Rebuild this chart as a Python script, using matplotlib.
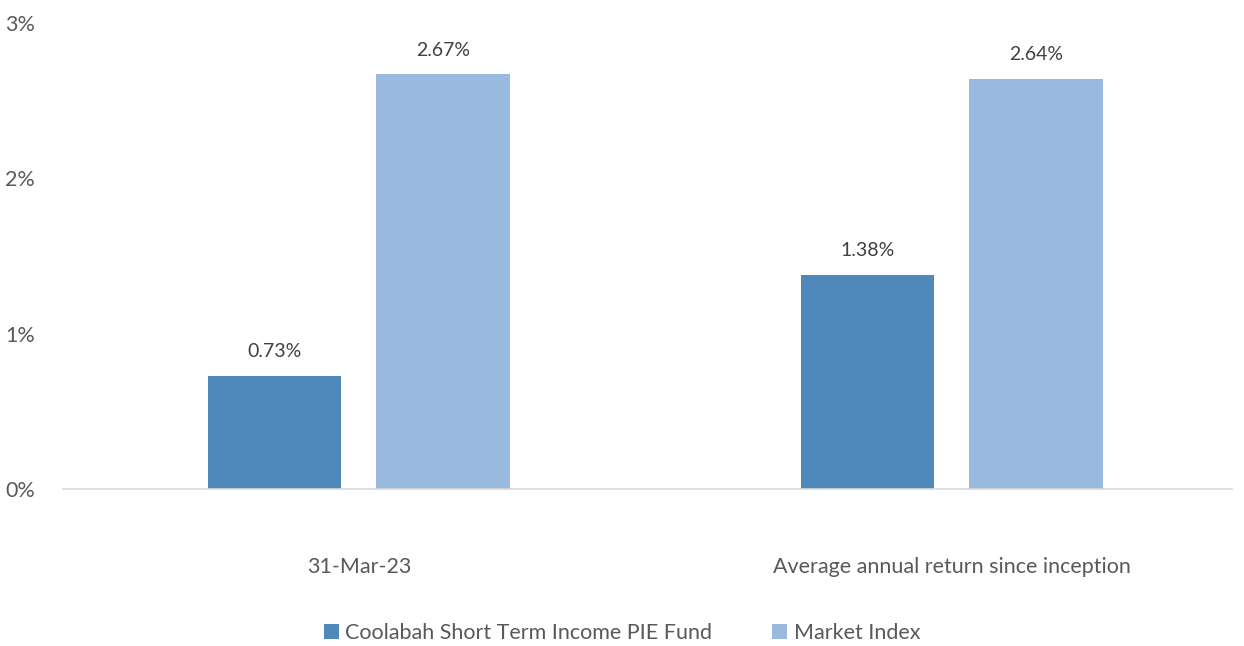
import matplotlib.pyplot as plt
import numpy as np

plt.rcParams['font.family'] = ['Lato', 'DejaVu Sans']

categories = ["31-Mar-23", "Average annual return since inception"]
series_names = ["Coolabah Short Term Income PIE Fund", "Market Index"]
fund = [0.73, 1.38]
market = [2.67, 2.64]
yticks = [0, 1, 2, 3]

text_col = "#595959"
colors = ["#4F88BB", "#99B9DF"]

fig = plt.figure(figsize=(12.44, 6.46), dpi=100)
ax = fig.add_axes([0.0506, 0.243, 0.9394, 0.7214])

x = np.arange(len(categories))
w = 0.225
off = 0.142
for vals, name, c, d in zip([fund, market], series_names, colors, [-off, off]):
    bars = ax.bar(x + d, vals, w, color=c, label=name)
    for b, v in zip(bars, vals):
        ax.text(b.get_x() + b.get_width() / 2, v + 0.1, f"{v:.2f}%",
                ha="center", va="bottom", fontsize=14, color="#404040")

ax.set_xlim(-0.499, 1.472)
ax.set_ylim(0, 3)
ax.set_yticks(yticks)
ax.set_yticklabels([f"{t}%" for t in yticks], fontsize=15.5, color=text_col)
ax.set_xticks(x)
ax.set_xticklabels(categories, fontsize=15.5, color=text_col)
ax.tick_params(axis="both", length=0)
ax.tick_params(axis="x", pad=49)
ax.tick_params(axis="y", pad=20)
for s in ["top", "right", "left"]:
    ax.spines[s].set_visible(False)
ax.spines["bottom"].set_color("#D9D9D9")
ax.spines["bottom"].set_linewidth(1.2)

fig.legend(loc="center", bbox_to_anchor=(0.5, 0.02), ncol=2, frameon=False,
           fontsize=15.5, labelcolor=text_col, handlelength=0.7, handleheight=0.7,
           handletextpad=0.3, columnspacing=2.8)

fig.savefig("out.png", dpi=100)
